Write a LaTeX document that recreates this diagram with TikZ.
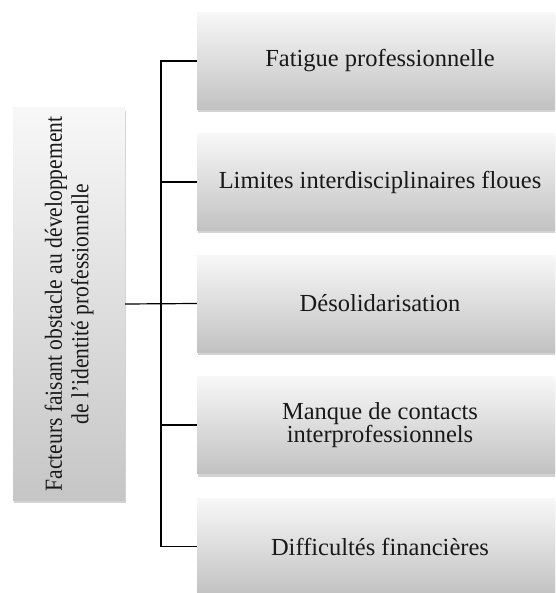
\documentclass[tikz,border=0pt]{standalone}
\usepackage{fontspec}
\setmainfont{Liberation Serif}
\usetikzlibrary{shadows}
\begin{document}
\begin{tikzpicture}[x=1pt,y=-1pt,
  box/.style={draw=none, top color=gray!6, bottom color=gray!48,
    drop shadow={shadow xshift=0.6pt, shadow yshift=-3pt, opacity=0.35},
    minimum width=366pt, minimum height=97pt, inner sep=0pt,
    font=\fontsize{24.5}{23}\selectfont, align=center, text=black!90},
  lbox/.style={draw=none, top color=gray!6, bottom color=gray!45,
    drop shadow={shadow xshift=0.6pt, shadow yshift=-3pt, opacity=0.35},
    minimum width=112pt, minimum height=392pt, inner sep=0pt},
  ltext/.style={rotate=90, align=center, inner sep=0pt, text=black!90,
    font=\fontsize{24.5}{26.5}\selectfont\addfontfeatures{FakeStretch=0.88}},
  conn/.style={line width=1.2pt, black}]
\clip (0,0) rectangle (555,593);
\node[lbox] (L) at (69,304) {};
\node[ltext] (Lt) at (L.center) {Facteurs faisant obstacle au développement\\de l’identité professionnelle};
\node[box] (B1) at (380,61) {Fatigue professionnelle};
\node[box] (B2) at (380,182) {Limites interdisciplinaires floues};
\node[box] (B3) at (380,303.5) {Désolidarisation};
\node[box] (B4) at (380,425) {Manque de contacts\\interprofessionnels};
\node[box] (B5) at (380,546.5) {Difficultés financières};
\coordinate (J) at (161,303.5);
\draw[conn] (L.east) -- (B3.west);
\draw[conn] (J) |- (B1.west);
\draw[conn] (J) |- (B2.west);
\draw[conn] (J) |- (B4.west);
\draw[conn] (J) |- (B5.west);
\end{tikzpicture}
\end{document}
